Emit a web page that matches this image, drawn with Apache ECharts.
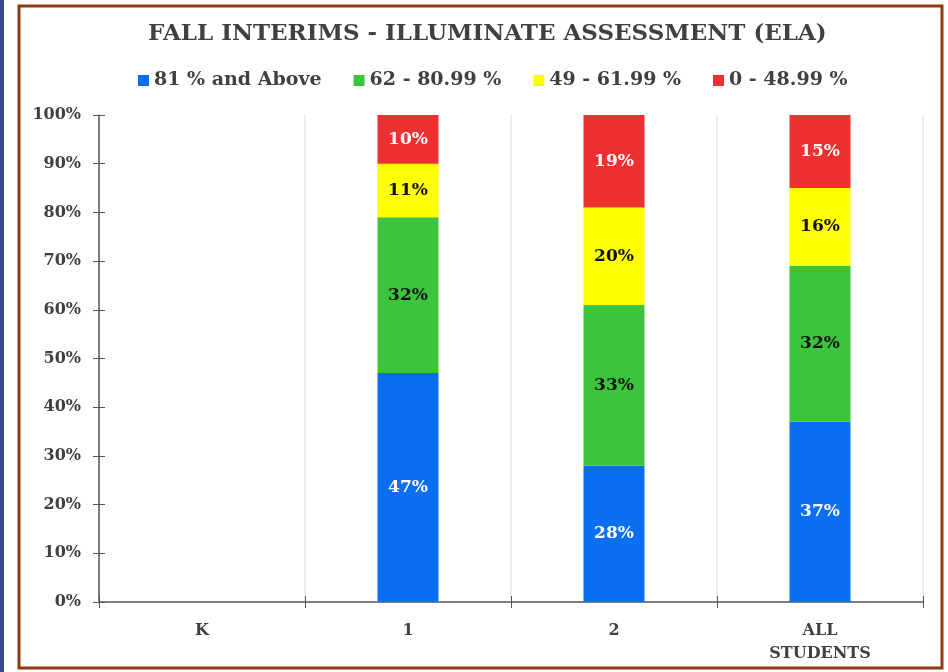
<!DOCTYPE html>
<html><head><meta charset="utf-8">
<script src="https://cdn.jsdelivr.net/npm/echarts@6/dist/echarts.min.js"></script>
<style>html,body{margin:0;padding:0;background:#fff}#c{width:948px;height:672px}</style>
</head><body><div id="c"></div>
<script>
const categories = ['K', '1', '2', 'ALL\nSTUDENTS'];
const seriesNames = ['81 % and Above', '62 - 80.99 %', '49 - 61.99 %', '0 - 48.99 %'];
const above81 = [null, 47, 28, 37];
const r62to81 = [null, 32, 33, 32];
const r49to62 = [null, 11, 20, 16];
const below49 = [null, 10, 19, 15];
const yTicks = [0, 10, 20, 30, 40, 50, 60, 70, 80, 90, 100];

const colors = ['#0a6ff2', '#3cc43c', '#ffff00', '#f03030'];
const labelColors = ['#ffffff', '#111111', '#111111', '#ffffff'];
const font = 'DejaVu Serif';
const values = [above81, r62to81, r49to62, below49];

const chart = echarts.init(document.getElementById('c'), null, {renderer: 'canvas'});
chart.setOption({
  backgroundColor: '#ffffff',
  animation: false,
  title: {
    text: 'FALL INTERIMS - ILLUMINATE ASSESSMENT (ELA)',
    left: 143, top: 18,
    textStyle: {fontFamily: font, fontWeight: 'bold', fontSize: 23, color: '#404040'}
  },
  legend: {
    top: 66, left: 133, itemWidth: 11, itemHeight: 11, itemGap: 32,
    icon: 'rect',
    textStyle: {fontFamily: font, fontWeight: 'bold', fontSize: 19, color: '#404040'},
    data: seriesNames
  },
  grid: {left: 99, right: 25, top: 115, bottom: 70},
  xAxis: [{
    type: 'category', data: categories,
    axisLine: {lineStyle: {color: '#555', width: 1.5}},
    axisTick: {show: true, length: 6, lineStyle: {color: '#555'}},
    axisLabel: {fontFamily: font, fontWeight: 'bold', fontSize: 16, color: '#404040', margin: 17, lineHeight: 23},
    splitLine: {show: true, lineStyle: {color: '#ededed', width: 2}}
  }, {
    type: 'category', data: categories, position: 'bottom', offset: 0,
    axisLine: {show: false}, axisLabel: {show: false}, splitLine: {show: false},
    axisTick: {show: true, inside: true, length: 6, lineStyle: {color: '#555'}}
  }],
  yAxis: [{
    type: 'value', min: 0, max: 100, interval: 10,
    axisLine: {show: true, lineStyle: {color: '#555', width: 1.5}},
    axisTick: {show: true, length: 6, lineStyle: {color: '#555'}},
    axisLabel: {fontFamily: font, fontWeight: 'bold', fontSize: 16, color: '#404040', margin: 18,
      formatter: v => yTicks.includes(v) ? v + '%' : ''},
    splitLine: {show: false}
  }, {
    type: 'value', min: 0, max: 100, interval: 10, position: 'left',
    axisLine: {show: false}, axisLabel: {show: false}, splitLine: {show: false},
    axisTick: {show: true, inside: true, length: 6, lineStyle: {color: '#555'}}
  }],
  series: seriesNames.map((name, i) => ({
    name, type: 'bar', stack: 'total', data: values[i], barWidth: 61,
    itemStyle: {color: colors[i]},
    label: {show: true, position: 'inside', formatter: p => p.value == null ? '' : p.value + '%',
      fontFamily: font, fontWeight: 'bold', fontSize: 17, color: labelColors[i]}
  })),
  graphic: [
    {type: 'rect', silent: true, z: 100, shape: {x: 0, y: 0, width: 4, height: 672}, style: {fill: '#3b4a8c'}},
    {type: 'rect', silent: true, z: 100, shape: {x: 19, y: 6, width: 923, height: 662}, style: {fill: 'none', stroke: '#8b3b12', lineWidth: 3}}
  ]
});
</script></body></html>
